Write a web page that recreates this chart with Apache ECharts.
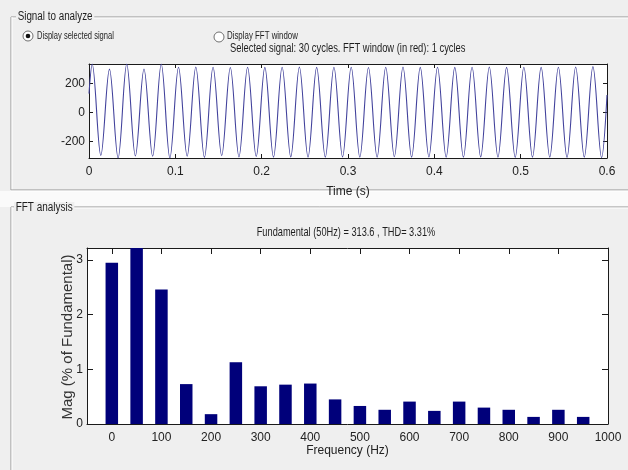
<!DOCTYPE html>
<html>
<head>
<meta charset="utf-8">
<title>FFT analysis</title>
<script src="https://cdn.jsdelivr.net/npm/echarts@6/dist/echarts.min.js"></script>
<style>
html, body { margin: 0; padding: 0; background: #efefef; }
#fig_fft { width: 628px; height: 470px; }
</style>
</head>
<body>
<div id="fig_fft"></div>
<script>
// selected signal: 50Hz, 30 cycles, peaks and troughs
var sig_freq = 50;
var sig_first_peak = 0.0037;   // time of the first positive peak (s)
var sig_start = 130;           // value at t = 0
var sig_end = 120;             // value at t = 0.6
var sig_peaks = [334, 299, 334, 300, 334, 312, 313, 312, 310, 312,
                 311, 312, 313, 311, 312, 312, 310, 312, 313, 311,
                 312, 311, 312, 313, 311, 312, 311, 312, 313, 316];
var sig_troughs = [-297, -314, -300, -302, -314, -302, -310, -298, -306, -304,
                   -308, -306, -308, -308, -306, -308, -308, -305, -308, -306,
                   -308, -308, -306, -308, -310, -308, -308, -310, -308, -312];
var sig_ticks = [-200, 0, 200];

// fft: magnitude in % of fundamental (the 50Hz bar is the fundamental, clipped)
var fft_freqs = [0, 50, 100, 150, 200, 250, 300, 350, 400, 450,
                 500, 550, 600, 650, 700, 750, 800, 850, 900, 950];
var fft_mags = [2.95, 100, 2.46, 0.73, 0.18, 1.13, 0.69, 0.72, 0.74, 0.45,
                0.33, 0.26, 0.41, 0.24, 0.41, 0.30, 0.26, 0.13, 0.26, 0.13];
var freq_ticks = [0, 100, 200, 300, 400, 500, 600, 700, 800, 900, 1000];
var mag_ticks = [0, 1, 2, 3];

var fig_fft = {
    plot_id: 'fig_fft',
    plot_chart: null,
    font: '"Liberation Sans", Arial, sans-serif',
    bg: '#efefef',

    // one point per peak and per trough, the curve is smoothed by echarts
    signal_data: function() {
        var period = 1 / sig_freq;
        var data = [[0, sig_start]];
        for (var k = 0; k < sig_peaks.length; k++) {
            var t = sig_first_peak + k * period;
            data.push([t, sig_peaks[k]]);
            data.push([t + period / 2, sig_troughs[k]]);
        }
        data.push([0.6, sig_end]);
        return data;
    },

    axis: function(grid, pos, min, max, ticks, len, show_label) {
        var a = {
            gridIndex: grid,
            type: 'value',
            position: pos,
            min: min,
            max: max,
            axisLine: { show: true, onZero: false, lineStyle: { color: '#1a1a1a', width: 1 } },
            axisTick: { show: true, inside: true, length: len, lineStyle: { color: '#1a1a1a' } },
            axisLabel: {
                show: show_label,
                color: '#222',
                fontFamily: this.font,
                fontSize: 12,
                margin: (pos == 'bottom' || pos == 'top') ? 8 : 4,
                formatter: function(v) { return String(v); }
            },
            splitLine: { show: false }
        };
        if (ticks.length) {
            a.axisTick.customValues = ticks;
            a.axisLabel.customValues = ticks;
        } else {
            a.interval = 0.1;
        }
        return a;
    },

    text: function(x, y, str, size, sx, align) {
        return {
            type: 'text',
            x: x,
            y: y,
            scaleX: sx,
            style: {
                x: 0,
                y: 0,
                text: str,
                fill: '#1e1e1e',
                font: size + 'px ' + this.font,
                align: align || 'left',
                verticalAlign: 'middle'
            }
        };
    },

    // etched group box line
    etch: function(x1, y1, x2, y2) {
        var dx = (x1 == x2) ? 1 : 0, dy = (y1 == y2) ? 1 : 0;
        return [
            { type: 'line', shape: { x1: x1, y1: y1, x2: x2, y2: y2 }, style: { stroke: '#939393', lineWidth: 1 } },
            { type: 'line', shape: { x1: x1 + dx, y1: y1 + dy, x2: x2 + dx, y2: y2 + dy }, style: { stroke: '#ffffff', lineWidth: 1 } }
        ];
    },

    radio: function(x, y, on) {
        var r = [{
            type: 'circle',
            shape: { cx: x, cy: y, r: 5 },
            style: { fill: '#fff', stroke: '#707070', lineWidth: 1 }
        }];
        if (on) {
            r.push({ type: 'circle', shape: { cx: x, cy: y, r: 2.3 }, style: { fill: '#111' } });
        }
        return r;
    },

    init: function() {
        var bars = fft_freqs.map(function(f, i) { return [f, fft_mags[i]]; });

        var x_time = this.axis(0, 'bottom', 0, 0.6, [], 4, true);
        x_time.name = 'Time (s)';
        x_time.nameLocation = 'middle';
        x_time.nameGap = 28;
        x_time.nameTextStyle = { color: '#222', fontFamily: this.font, fontSize: 12 };

        var x_freq = this.axis(1, 'bottom', -50, 1000, freq_ticks, 6, true);
        x_freq.name = 'Frequency (Hz)';
        x_freq.nameLocation = 'middle';
        x_freq.nameGap = 21;
        x_freq.nameTextStyle = { color: '#222', fontFamily: this.font, fontSize: 12 };

        // white strip between the two panels
        var graphic = [{
            type: 'rect',
            shape: { x: 0, y: 191, width: 628, height: 16 },
            style: { fill: '#fafafa' }
        }];
        graphic = graphic
            .concat(this.etch(11, 17, 628, 17))
            .concat(this.etch(11, 17, 11, 190))
            .concat(this.etch(11, 190, 628, 190))
            .concat(this.etch(11, 207, 628, 207))
            .concat(this.etch(11, 207, 11, 470))
            .concat(this.radio(28, 36, true))
            .concat(this.radio(219, 37, false));

        var t1 = this.text(16, 17, 'Signal to analyze', 12, 0.82);
        t1.style.backgroundColor = this.bg;
        t1.style.padding = [0, 2];
        var t2 = this.text(14, 208, 'FFT analysis', 12, 0.83);
        t2.style.backgroundColor = this.bg;
        t2.style.padding = [0, 2];
        graphic.push(t1, t2);
        graphic.push(this.text(37, 36, 'Display selected signal', 10.5, 0.72));
        graphic.push(this.text(227, 36, 'Display FFT window', 10.5, 0.75));
        graphic.push(this.text(230, 49, 'Selected signal: 30 cycles. FFT window (in red): 1 cycles', 12.5, 0.75));
        graphic.push(this.text(346, 232, 'Fundamental (50Hz) = 313.6 , THD= 3.31%', 13, 0.71, 'center'));
        graphic.push({
            type: 'text',
            x: 68,
            y: 337,
            rotation: Math.PI / 2,
            style: {
                text: 'Mag (% of Fundamental)',
                fill: '#333',
                font: '15px "Liberation Sans", Arial, sans-serif',
                align: 'center',
                verticalAlign: 'middle'
            }
        });

        this.option = {
            backgroundColor: this.bg,
            animation: false,
            grid: [
                { left: 89, right: 21, top: 64, height: 94, show: true, backgroundColor: '#fff', borderWidth: 0 },
                { left: 87, right: 20, top: 248, height: 176, show: true, backgroundColor: '#fff', borderWidth: 0 }
            ],
            xAxis: [
                x_time,
                this.axis(0, 'top', 0, 0.6, [], 4, false),
                x_freq,
                this.axis(1, 'top', -50, 1000, freq_ticks, 6, false)
            ],
            yAxis: [
                this.axis(0, 'left', -314, 334, sig_ticks, 4, true),
                this.axis(0, 'right', -314, 334, sig_ticks, 4, false),
                this.axis(1, 'left', 0, 3.22, mag_ticks, 6, true),
                this.axis(1, 'right', 0, 3.22, mag_ticks, 6, false)
            ],
            series: [
                {
                    type: 'line',
                    xAxisIndex: 0,
                    yAxisIndex: 0,
                    data: this.signal_data(),
                    showSymbol: false,
                    smooth: 0.36,
                    lineStyle: { color: '#42429c', width: 1.1 }
                },
                {
                    type: 'bar',
                    xAxisIndex: 2,
                    yAxisIndex: 2,
                    data: bars,
                    barWidth: 12.5,
                    clip: true,
                    itemStyle: { color: '#00007a' }
                }
            ],
            graphic: graphic
        };

        this.plot_chart = echarts.init(document.getElementById(this.plot_id));
        this.plot_chart.setOption(this.option);
    }
};

fig_fft.init();
</script>
</body>
</html>
